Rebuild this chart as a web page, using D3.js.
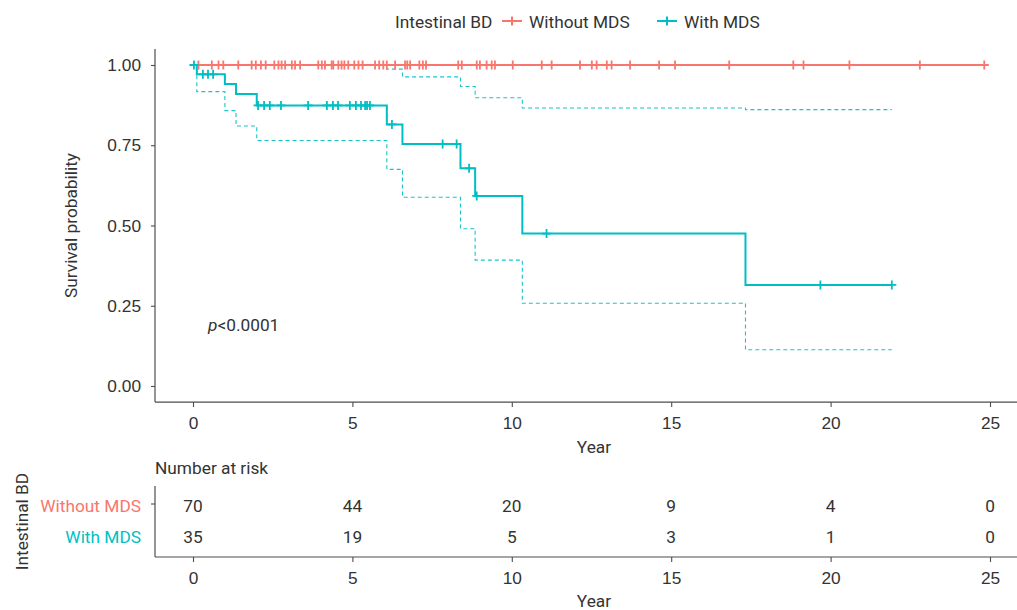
<!DOCTYPE html>
<html>
<head>
<meta charset="utf-8">
<script src="https://cdn.jsdelivr.net/npm/d3@7"></script>
<style>
  html, body { margin: 0; padding: 0; background: #fff; }
  svg { display: block; font-family: Roboto, "Liberation Sans", sans-serif; }
</style>
</head>
<body>
<svg id="chart" width="1017" height="610"></svg>
<script>
// ---------------- data ----------------
const strata = ["Without MDS", "With MDS"];
const colors = ["#F8766D", "#00BFC4"];
const xTicks = [0, 5, 10, 15, 20, 25];
const yTicks = [0, 0.25, 0.5, 0.75, 1];

// Without MDS: no events, censored times
const withoutEnd = 24.82;
const withoutCensor = [0.17, 0.59, 0.80, 0.95, 1.42, 1.84, 1.97, 2.13, 2.28, 2.55, 2.68, 2.78, 2.89,
  3.10, 3.20, 3.36, 3.93, 4.04, 4.14, 4.35, 4.40, 4.56, 4.66, 4.75, 4.87,
  5.06, 5.19, 5.32, 5.71, 5.84, 5.97, 6.08, 6.34, 6.65, 6.72, 6.81, 7.10, 7.21, 7.31,
  8.32, 8.43, 8.90, 9.00, 9.21, 9.37, 9.47,
  10.03, 10.94, 11.25, 12.14, 12.51, 12.66, 12.98, 13.13, 13.71, 14.62,
  15.12, 16.82, 18.83, 19.15, 20.59, 22.80, 24.82];

// With MDS: step times, survival, CI
const withEnd = 21.92;
const withTimes = [0.12, 1.00, 1.35, 2.00, 6.08, 6.57, 8.39, 8.85, 10.33, 17.33];
const withSurv  = [0.971, 0.941, 0.910, 0.874, 0.815, 0.754, 0.678, 0.592, 0.475, 0.315];
const withLower = [0.917, 0.858, 0.810, 0.765, 0.675, 0.588, 0.490, 0.392, 0.258, 0.113];
const withUpper = [1, 1, 1, 1, 0.987, 0.963, 0.933, 0.898, 0.866, 0.861];
const withCensor = [0.03, 0.31, 0.47, 0.63, 2.04, 2.23, 2.41, 2.76, 3.61, 4.20, 4.39, 4.55, 4.92,
  5.11, 5.27, 5.40, 5.46, 5.55, 6.24, 7.83, 8.27, 8.66, 8.90, 11.09, 19.68, 21.92];

// Number at risk
const riskWithout = [70, 44, 20, 9, 4, 0];
const riskWith = [35, 19, 5, 3, 1, 0];

// ---------------- drawing ----------------
const svg = d3.select("#chart");
const textCol = "#333333";
const axisCol = "#4d4d4d";
const fs = 17.3;

const x = d3.scaleLinear().domain([0, 25]).range([193, 990]);
const panelLeft = 155, panelRight = 1033;
const y = d3.scaleLinear().domain([0, 1]).range([386, 65]);
const panelTop = y(1.05), panelBottom = y(-0.05);

function stepPoints(times, vals, end) {
  const pts = [[0, 1]];
  times.forEach((t, i) => pts.push([t, vals[i]]));
  pts.push([end, vals[vals.length - 1]]);
  return pts;
}
function survAt(t) {
  let s = 1;
  withTimes.forEach((tt, i) => { if (tt <= t) s = withSurv[i]; });
  return s;
}
const line = d3.line().x(d => x(d[0])).y(d => y(d[1])).curve(d3.curveStepAfter);
const plus = "M-4.5,0H4.5M0,-4.5V4.5";

// legend
const leg = svg.append("g").attr("font-size", fs).attr("fill", textCol);
leg.append("text").attr("x", 395).attr("y", 28).text("Intestinal BD");
const legItems = [{ k: 512, tx: 529, label: strata[0], c: colors[0] },
                  { k: 667, tx: 684, label: strata[1], c: colors[1] }];
legItems.forEach(d => {
  leg.append("line").attr("x1", d.k - 10).attr("x2", d.k + 10).attr("y1", 21).attr("y2", 21)
    .attr("stroke", d.c).attr("stroke-width", 2);
  leg.append("path").attr("d", plus).attr("transform", `translate(${d.k},21)`)
    .attr("stroke", d.c).attr("stroke-width", 2).attr("fill", "none");
  leg.append("text").attr("x", d.tx).attr("y", 28).text(d.label);
});

// plot group
const g = svg.append("g");

// CI dashed
[withLower, withUpper].forEach(arr => {
  g.append("path").attr("d", line(stepPoints(withTimes, arr, withEnd)))
    .attr("fill", "none").attr("stroke", colors[1]).attr("stroke-width", 1.1)
    .attr("stroke-dasharray", "4,3").attr("opacity", 0.9);
});

// Without MDS curve
g.append("path").attr("d", line([[0, 1], [withoutEnd, 1]]))
  .attr("fill", "none").attr("stroke", colors[0]).attr("stroke-width", 2);
// With MDS curve
g.append("path").attr("d", line(stepPoints(withTimes, withSurv, withEnd)))
  .attr("fill", "none").attr("stroke", colors[1]).attr("stroke-width", 2);

// censor marks
g.selectAll(".cw").data(withoutCensor).join("path")
  .attr("d", plus).attr("transform", d => `translate(${x(d)},${y(1)})`)
  .attr("stroke", colors[0]).attr("stroke-width", 1.8).attr("fill", "none");
g.selectAll(".cm").data(withCensor).join("path")
  .attr("d", plus).attr("transform", d => `translate(${x(d)},${y(survAt(d))})`)
  .attr("stroke", colors[1]).attr("stroke-width", 1.8).attr("fill", "none");

// axes
function styleAxis(sel) {
  sel.select(".domain").remove();
  sel.selectAll(".tick line").attr("stroke", axisCol).attr("stroke-width", 1.1);
  sel.selectAll(".tick text").attr("fill", textCol).attr("font-size", fs).attr("font-family", null);
}
const yAxis = g.append("g").attr("transform", `translate(${panelLeft},0)`)
  .call(d3.axisLeft(y).tickValues(yTicks).tickFormat(d3.format(".2f")).tickSize(4).tickPadding(10));
styleAxis(yAxis);
const xAxis = g.append("g").attr("transform", `translate(0,${panelBottom})`)
  .call(d3.axisBottom(x).tickValues(xTicks).tickFormat(d3.format("d")).tickSize(5).tickPadding(10));
styleAxis(xAxis);
g.append("line").attr("x1", panelLeft).attr("x2", panelLeft).attr("y1", panelTop).attr("y2", panelBottom)
  .attr("stroke", axisCol).attr("stroke-width", 1.2);
g.append("line").attr("x1", panelLeft).attr("x2", panelRight).attr("y1", panelBottom).attr("y2", panelBottom)
  .attr("stroke", axisCol).attr("stroke-width", 1.2);

g.append("text").attr("x", (panelLeft + panelRight) / 2).attr("y", 453).attr("text-anchor", "middle")
  .attr("font-size", fs).attr("fill", textCol).text("Year");
g.append("text").attr("transform", `translate(77,${(panelTop + panelBottom) / 2}) rotate(-90)`)
  .attr("text-anchor", "middle").attr("font-size", fs).attr("fill", textCol).text("Survival probability");

// p-value
const pt = g.append("text").attr("x", 208).attr("y", 331).attr("font-size", fs).attr("fill", textCol);
pt.append("tspan").attr("font-style", "italic").text("p");
pt.append("tspan").text("<0.0001");

// ---------------- risk table ----------------
const rt = svg.append("g");
const rTop = 486, rBottom = 557;
const ry = d3.scalePoint().domain(strata).range([506, 537]);

rt.append("text").attr("x", panelLeft).attr("y", 474).attr("font-size", fs).attr("fill", textCol)
  .text("Number at risk");

const riskRows = [riskWithout, riskWith];
strata.forEach((s, i) => {
  rt.selectAll(".r" + i).data(riskRows[i]).join("text")
    .attr("x", (d, j) => x(xTicks[j])).attr("y", ry(s)).attr("dy", "0.35em")
    .attr("text-anchor", "middle").attr("font-size", fs).attr("fill", textCol)
    .text(d => d);
  rt.append("text").attr("x", 141).attr("y", ry(s)).attr("dy", "0.35em")
    .attr("text-anchor", "end").attr("font-size", fs).attr("fill", colors[i]).text(s);
});
// single tick on the first stratum
rt.append("line").attr("x1", panelLeft - 4).attr("x2", panelLeft).attr("y1", ry(strata[0]) - 2).attr("y2", ry(strata[0]) - 2)
  .attr("stroke", axisCol).attr("stroke-width", 1.1);

rt.append("line").attr("x1", panelLeft).attr("x2", panelLeft).attr("y1", rTop).attr("y2", rBottom)
  .attr("stroke", axisCol).attr("stroke-width", 1.2);
const rxAxis = rt.append("g").attr("transform", `translate(0,${rBottom})`)
  .call(d3.axisBottom(x).tickValues(xTicks).tickFormat(d3.format("d")).tickSize(5).tickPadding(10));
styleAxis(rxAxis);
rt.append("line").attr("x1", panelLeft).attr("x2", panelRight).attr("y1", rBottom).attr("y2", rBottom)
  .attr("stroke", axisCol).attr("stroke-width", 1.2);
rt.append("text").attr("x", (panelLeft + panelRight) / 2).attr("y", 607).attr("text-anchor", "middle")
  .attr("font-size", fs).attr("fill", textCol).text("Year");
rt.append("text").attr("transform", `translate(28,${(rTop + rBottom) / 2}) rotate(-90)`)
  .attr("text-anchor", "middle").attr("font-size", fs).attr("fill", textCol).text("Intestinal BD");
</script>
</body>
</html>
